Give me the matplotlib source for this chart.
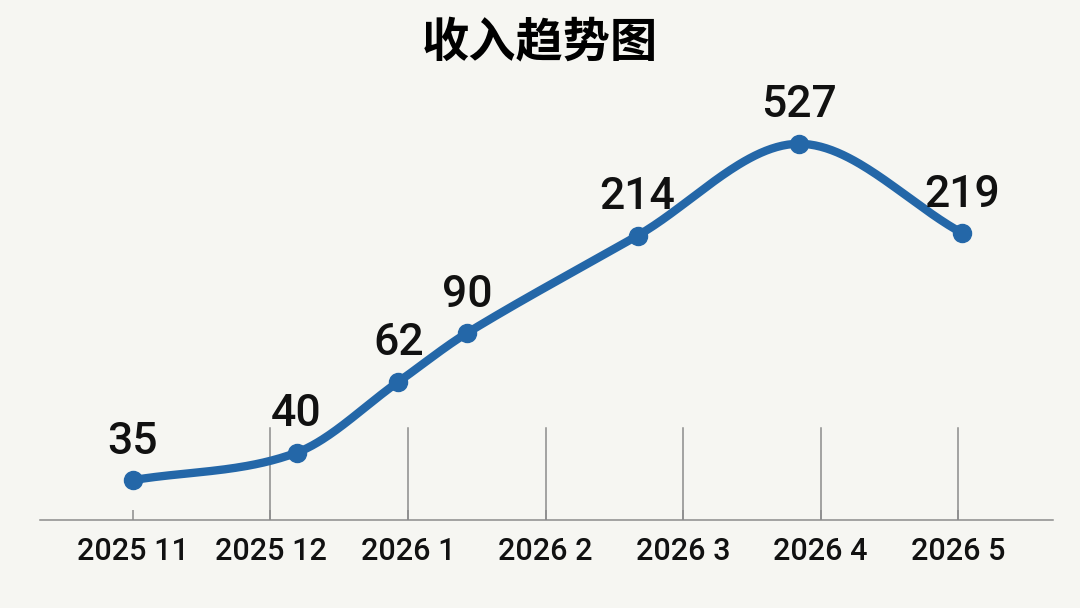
import numpy as np
import matplotlib.pyplot as plt

# Revenue per month
months = ['2025 11', '2025 12', '2026 1', '2026 2', '2026 3', '2026 4', '2026 5']
revenue = [35, 40, 62, 90, 214, 527, 219]
# where each point sits along the month axis
point_pos = [0.0, 1.19, 1.93, 2.43, 3.67, 4.84, 6.03]
title = '收入趋势图'

BLUE = '#2467a8'
GRID = '#8c8c8c'
BG = '#f6f6f2'

# the picture's vertical axis is compressed, roughly logarithmic
OFFSET = 20


def forward(v):
    return np.log10(np.maximum(np.asarray(v, dtype=float) - OFFSET, 1e-6))


def inverse(t):
    return 10 ** np.asarray(t, dtype=float) + OFFSET


def smooth_curve(xs, ts, n=60):
    # cubic Hermite with Catmull-Rom style tangents (for drawing only)
    xs = np.asarray(xs, dtype=float)
    ts = np.asarray(ts, dtype=float)
    m = np.zeros_like(ts)
    m[0] = (ts[1] - ts[0]) / (xs[1] - xs[0])
    m[-1] = (ts[-1] - ts[-2]) / (xs[-1] - xs[-2])
    for i in range(1, len(xs) - 1):
        m[i] = (ts[i + 1] - ts[i - 1]) / (xs[i + 1] - xs[i - 1])
    out_x, out_t = [], []
    for i in range(len(xs) - 1):
        h = xs[i + 1] - xs[i]
        s = np.linspace(0, 1, n)
        h00 = 2 * s**3 - 3 * s**2 + 1
        h10 = s**3 - 2 * s**2 + s
        h01 = -2 * s**3 + 3 * s**2
        h11 = s**3 - s**2
        out_x.append(xs[i] + s * h)
        out_t.append(h00 * ts[i] + h10 * h * m[i] + h01 * ts[i + 1] + h11 * h * m[i + 1])
    return np.concatenate(out_x), np.concatenate(out_t)


fig = plt.figure(figsize=(10.8, 6.08), dpi=100, facecolor=BG)
ax = fig.add_axes([40 / 1080, 88 / 608, 1013 / 1080, 420 / 608])
ax.set_facecolor('none')

ax.set_yscale('function', functions=(forward, inverse))
ax.set_xlim(-0.676, 6.69)
ax.set_ylim(inverse(0.995), inverse(2.904))

# smooth line through the points
sx, st = smooth_curve(point_pos, forward(revenue))
ax.plot(sx, inverse(st), color=BLUE, lw=6, solid_capstyle='round', zorder=3)
ax.plot(point_pos, revenue, 'o', color=BLUE, markersize=13, zorder=4)

for x, v in zip(point_pos, revenue):
    ax.annotate(str(v), (x, v), xytext=(0, 19), textcoords='offset points',
                ha='center', va='baseline', fontsize=32, family='Roboto',
                fontweight='medium', color='#111111')

# short vertical guide lines above the month ticks
for i in range(1, len(months)):
    ax.axvline(i, ymin=0, ymax=0.22, color=GRID, lw=1.1, zorder=1)

ax.set_xticks(range(len(months)), months)
ax.set_yticks([])
ax.minorticks_off()
ax.tick_params(axis='x', direction='in', length=7, width=1.1, color=GRID,
               pad=12, labelsize=22, labelcolor='#111111')
for lab in ax.get_xticklabels():
    lab.set_family('Roboto')
    lab.set_fontweight('medium')

for side in ['top', 'left', 'right']:
    ax.spines[side].set_visible(False)
ax.spines['bottom'].set_color(GRID)
ax.spines['bottom'].set_linewidth(1.1)

fig.text(0.5, 1 - 42 / 608, title, ha='center', va='center', fontsize=34,
         fontweight='bold', family=['Noto Sans CJK SC', 'DejaVu Sans'])

fig.savefig('out.png', dpi=100, facecolor=BG)
